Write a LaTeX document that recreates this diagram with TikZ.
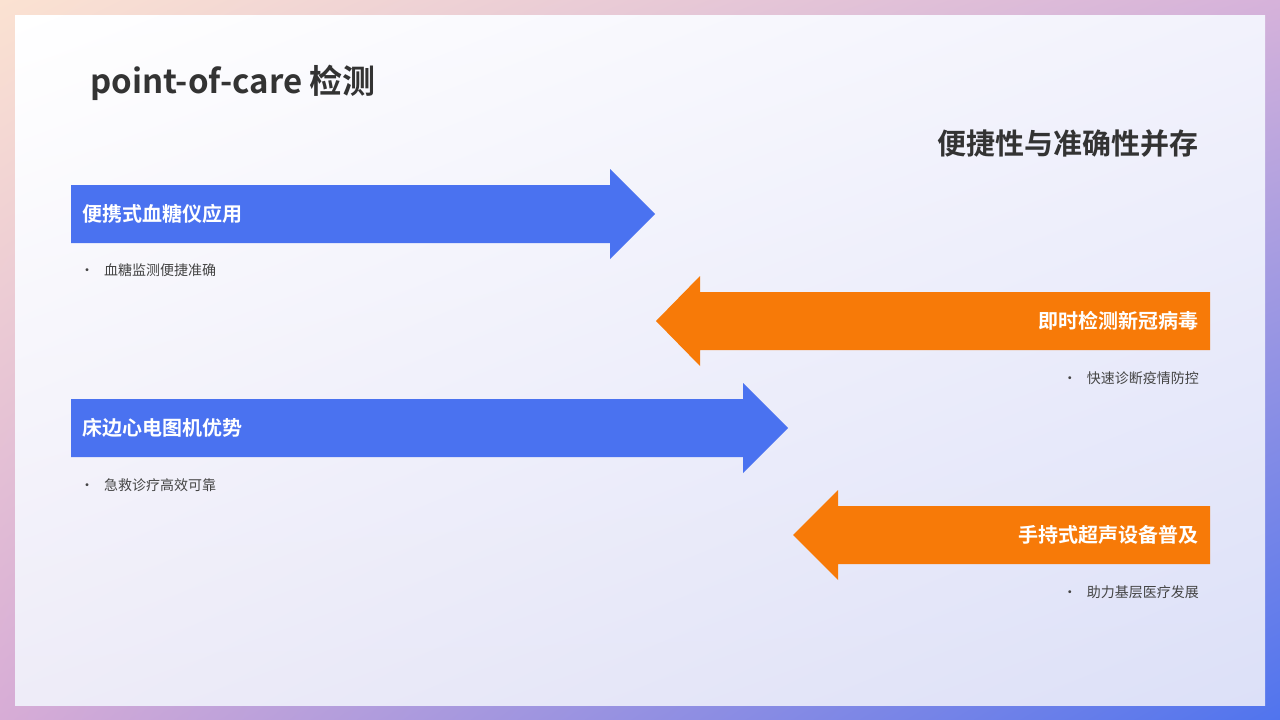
\documentclass[tikz,border=0pt]{standalone}
\usepackage{fontspec}
\usetikzlibrary{shadings}
\setmainfont{Noto Sans CJK SC}[BoldFont={Noto Sans CJK SC Bold}]
\definecolor{bl}{HTML}{4A72F0}
\definecolor{or}{HTML}{F77A08}
\definecolor{tx}{HTML}{333333}
\definecolor{gx}{HTML}{444444}
\definecolor{fa}{RGB}{251,226,210}
\definecolor{fb}{RGB}{214,178,218}
\definecolor{fc}{RGB}{215,172,214}
\definecolor{fd}{RGB}{80,116,238}
\definecolor{pb}{RGB}{242,242,252}
\definecolor{pc}{RGB}{238,236,248}
\definecolor{pd}{RGB}{220,224,248}
\begin{document}
\begin{tikzpicture}[x=1pt,y=-1pt,
  lab/.style={text=white,font=\bfseries\fontsize{20}{24}\selectfont,inner sep=0},
  bul/.style={text=gx,font=\fontsize{14}{17}\selectfont,inner sep=0}]
\useasboundingbox (0,0) rectangle (1280,720);
\shade[upper left=fa,upper right=fb,lower left=fc,lower right=fd] (0,0) rectangle (1280,720);
\shade[upper left=white,upper right=pb,lower left=pc,lower right=pd] (15,15) rectangle (1265,705);
\node[anchor=west,text=tx,font=\bfseries\fontsize{33}{40}\selectfont,inner sep=0] (title) at (90,83) {point-of-care 检测};
\node[anchor=east,text=tx,font=\bfseries\fontsize{29}{35}\selectfont,inner sep=0] (sub) at (1199,144) {便捷性与准确性并存};
% arrow 1
\fill[bl] (71,185) -- (610,185) -- (610,169) -- (655,214) -- (610,259) -- (610,243) -- (71,243) -- cycle;
\node[lab,anchor=west] (a1) at (82,214) {便携式血糖仪应用};
\node[bul,anchor=west] (b1) at (80,270) {•\hspace{10pt}血糖监测便捷准确};
% arrow 2
\fill[or] (1210,292) -- (700,292) -- (700,276) -- (656,321) -- (700,366) -- (700,350) -- (1210,350) -- cycle;
\node[lab,anchor=east] (a2) at (1199,321) {即时检测新冠病毒};
\node[bul,anchor=east] (b2) at (1199,378) {•\hspace{10pt}快速诊断疫情防控};
% arrow 3
\fill[bl] (71,399) -- (743,399) -- (743,383) -- (788,428) -- (743,473) -- (743,457) -- (71,457) -- cycle;
\node[lab,anchor=west] (a3) at (82,428) {床边心电图机优势};
\node[bul,anchor=west] (b3) at (80,485) {•\hspace{10pt}急救诊疗高效可靠};
% arrow 4
\fill[or] (1210,506) -- (838,506) -- (838,490) -- (793,535) -- (838,580) -- (838,564) -- (1210,564) -- cycle;
\node[lab,anchor=east] (a4) at (1199,535) {手持式超声设备普及};
\node[bul,anchor=east] (b4) at (1199,592) {•\hspace{10pt}助力基层医疗发展};
\end{tikzpicture}
\end{document}
